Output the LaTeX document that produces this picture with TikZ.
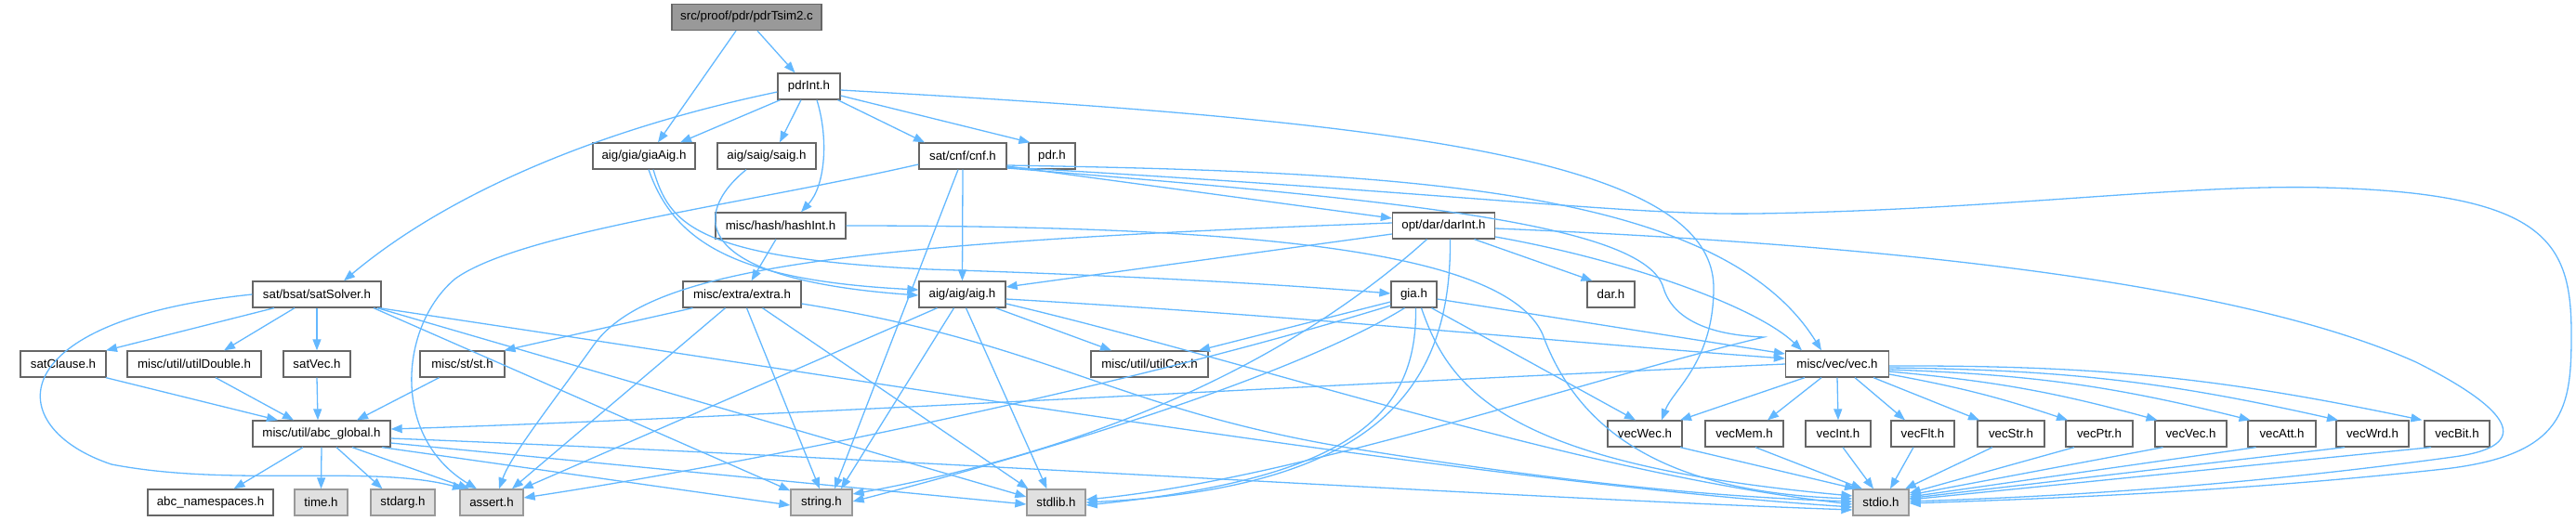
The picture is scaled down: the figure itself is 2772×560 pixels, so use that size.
\documentclass[tikz,border=0pt]{standalone}
\usepackage{fontspec}
\setmainfont{Liberation Sans}
\usetikzlibrary{arrows.meta}
\definecolor{edgec}{HTML}{63B8FF}
\definecolor{nodeb}{HTML}{666666}
\definecolor{rootf}{HTML}{999999}
\definecolor{sysf}{HTML}{E0E0E0}
\definecolor{sysb}{HTML}{999999}
\begin{document}
\begin{tikzpicture}[x=1pt,y=-1pt,
  box/.style={draw=nodeb,fill=white,line width=1.3pt,rectangle,inner sep=0pt,minimum height=28pt,font=\fontsize{13.3}{16}\selectfont},
  rootbox/.style={box,fill=rootf},
  sysbox/.style={box,fill=sysf,draw=sysb},
  e/.style={draw=edgec,line width=1.3pt,-{Triangle[length=12pt,width=9pt]}}]
\useasboundingbox (0,0) rectangle (2772,560);
% nodes
\node[rootbox,minimum width=161pt] (R) at (803.5,18.5) {src/proof/pdr/pdrTsim2.c};
\node[box,minimum width=67pt] (P) at (870.5,93) {pdrInt.h};
\node[box,minimum width=110pt] (GA) at (693,168) {aig/gia/giaAig.h};
\node[box,minimum width=106pt] (SA) at (825,168) {aig/saig/saig.h};
\node[box,minimum width=94pt] (CN) at (1036,168) {sat/cnf/cnf.h};
\node[box,minimum width=50pt] (PD) at (1132,168) {pdr.h};
\node[box,minimum width=140pt] (HI) at (840,243) {misc/hash/hashInt.h};
\node[box,minimum width=110pt] (DI) at (1553.5,243) {opt/dar/darInt.h};
\node[box,minimum width=138pt] (SS) at (341,317) {sat/bsat/satSolver.h};
\node[box,minimum width=127pt] (EX) at (798.5,317) {misc/extra/extra.h};
\node[box,minimum width=93pt] (AI) at (1035.5,317) {aig/aig/aig.h};
\node[box,minimum width=49pt] (GI) at (1521.5,317) {gia.h};
\node[box,minimum width=51pt] (DR) at (1733.5,317) {dar.h};
\node[box,minimum width=92pt] (SC) at (68,392) {satClause.h};
\node[box,minimum width=144pt] (UD) at (209,392) {misc/util/utilDouble.h};
\node[box,minimum width=72pt] (SV) at (341,392) {satVec.h};
\node[box,minimum width=91pt] (ST) at (497.5,392) {misc/st/st.h};
\node[box,minimum width=126pt] (UC) at (1237,392) {misc/util/utilCex.h};
\node[box,minimum width=111pt] (VE) at (1977,392) {misc/vec/vec.h};
\node[box,minimum width=148pt] (AG) at (346,467) {misc/util/abc\_global.h};
\node[box,minimum width=80pt] (VW) at (1770,467) {vecWec.h};
\node[box,minimum width=84pt] (VM) at (1877,467) {vecMem.h};
\node[box,minimum width=70pt] (VI) at (1978,467) {vecInt.h};
\node[box,minimum width=68pt] (VF) at (2069,467) {vecFlt.h};
\node[box,minimum width=72pt] (VS) at (2164,467) {vecStr.h};
\node[box,minimum width=72pt] (VP) at (2259,467) {vecPtr.h};
\node[box,minimum width=77pt] (VV) at (2357.5,467) {vecVec.h};
\node[box,minimum width=73pt] (VA) at (2455.5,467) {vecAtt.h};
\node[box,minimum width=78pt] (VD) at (2553,467) {vecWrd.h};
\node[box,minimum width=70pt] (VB) at (2644,467) {vecBit.h};
\node[box,minimum width=135pt] (AN) at (226.5,541) {abc\_namespaces.h};
\node[sysbox,minimum width=57pt] (TI) at (345.5,541) {time.h};
\node[sysbox,minimum width=69pt] (SG) at (433.5,541) {stdarg.h};
\node[sysbox,minimum width=68pt] (AS) at (529,541) {assert.h};
\node[sysbox,minimum width=66pt] (STR) at (884,541) {string.h};
\node[sysbox,minimum width=63pt] (SL) at (1136.5,541) {stdlib.h};
\node[sysbox,minimum width=60pt] (SI) at (2024,541) {stdio.h};
% edges
\draw[e] ([xshift=11.5pt]R.south) -- ([xshift=-15pt]P.north);
\draw[e] ([xshift=-11.5pt]R.south) -- ([xshift=15pt]GA.north);
\draw[e] ([xshift=-31pt]P.south) -- ([xshift=39pt]GA.north);
\draw[e] ([xshift=-8.5pt]P.south) -- ([xshift=14pt]SA.north);
\draw[e] ([xshift=8.5pt]P.south) .. controls (892,150) and (888,200) .. ([xshift=22pt]HI.north);
\draw[e] ([xshift=31pt]P.south) -- ([xshift=-41pt]CN.north);
\draw[e] ([yshift=-10pt]P.east) -- ([xshift=2pt]PD.north west);
\draw[e] ([yshift=-6pt]P.west) .. controls (640,140) and (480,210) .. ([xshift=29pt]SS.north);
\draw[e] ([yshift=-4pt]P.east) .. controls (1500,130) and (1844,170) .. (1844,310) .. controls (1844,390) and (1800,420) .. ([xshift=18pt]VW.north);
\draw[e] ([xshift=5pt]GA.south) .. controls (725,260) and (790,302) .. ([yshift=5pt]AI.west);
\draw[e] ([xshift=10pt]GA.south) .. controls (720,240) and (745,278) .. (1000,290) .. controls (1250,298) and (1400,308) .. ([yshift=1pt]GI.west);
\draw[e] ([xshift=-22pt]SA.south) .. controls (745,230) and (740,300) .. ([yshift=-1pt]AI.west);
\draw[e] (CN.south) -- (AI.north);
\draw[e] ([yshift=-11pt]CN.east) -- ([yshift=8pt]DI.west);
\draw[e] ([yshift=-10pt]CN.east) .. controls (1500,185) and (1850,200) .. ([xshift=-17pt]VE.north);
\draw[e] ([yshift=-12pt]CN.east) .. controls (1600,210) and (1750,232) .. (1890,230) .. controls (2150,226) and (2350,198) .. (2500,202) .. controls (2740,208) and (2767,260) .. (2767,360) .. controls (2767,440) and (2760,490) .. (2630,505) .. controls (2400,530) and (2200,537) .. ([yshift=-1pt]SI.east);
\draw[e] ([yshift=-13pt]CN.east) .. controls (1500,215) and (1770,240) .. (1790,310) .. controls (1805,360) and (1880,362) .. (1898,363) .. controls (1700,410) and (1400,515) .. ([yshift=3pt]SL.east);
\draw[e] ([xshift=-5pt]CN.south) -- ([xshift=14pt]STR.north);
\draw[e] ([yshift=-9pt]CN.west) .. controls (800,220) and (560,250) .. (490,300) .. controls (430,350) and (420,470) .. ([xshift=-16pt]AS.north);
\draw[e] ([xshift=-5pt]HI.south) -- ([xshift=10pt]EX.north);
\draw[e] (HI.east) .. controls (1350,243) and (1620,270) .. (1660,360) .. controls (1700,470) and (1800,530) .. ([yshift=4pt]SI.west);
\draw[e] ([yshift=-9pt]DI.west) -- ([yshift=8pt]AI.east);
\draw[e] ([xshift=33pt]DI.south) -- ([xshift=-20pt]DR.north);
\draw[e] ([yshift=-12pt]DI.east) .. controls (1750,280) and (1890,330) .. ([xshift=-38pt]VE.north);
\draw[e] ([yshift=-3pt]DI.east) .. controls (2000,262) and (2400,300) .. (2600,390) .. controls (2700,440) and (2730,480) .. (2640,492) .. controls (2400,525) and (2200,535) .. ([yshift=1pt]SI.east);
\draw[e] ([xshift=7pt]DI.south) .. controls (1562,420) and (1480,525) .. ([yshift=0pt]SL.east);
\draw[e] ([xshift=-18pt]DI.south) .. controls (1400,380) and (1200,480) .. ([yshift=9pt]STR.east);
\draw[e] ([yshift=3pt]DI.west) .. controls (900,262) and (700,290) .. (640,370) .. controls (590,440) and (550,490) .. ([xshift=8pt]AS.north);
\draw[e] ([xshift=-53pt]EX.south) -- ([xshift=45pt]ST.north);
\draw[e] ([xshift=-18pt]EX.south) -- ([xshift=22pt]AS.north);
\draw[e] ([xshift=5pt]EX.south) -- ([xshift=-2pt]STR.north);
\draw[e] ([xshift=22pt]EX.south) -- ([xshift=-30pt]SL.north);
\draw[e] ([yshift=-10pt]EX.east) .. controls (1130,370) and (1200,440) .. (1450,482) .. controls (1700,522) and (1850,535) .. ([yshift=1pt]SI.west);
\draw[e] ([xshift=36pt]AI.south) -- ([xshift=-41pt]UC.north);
\draw[e] ([yshift=-5pt]AI.east) .. controls (1400,340) and (1700,370) .. ([yshift=6pt]VE.west);
\draw[e] ([yshift=-10pt]AI.east) .. controls (1350,390) and (1700,510) .. ([yshift=-2pt]SI.west);
\draw[e] ([xshift=4pt]AI.south) -- ([xshift=-10pt]SL.north);
\draw[e] ([xshift=-9pt]AI.south) -- ([xshift=21pt]STR.north);
\draw[e] ([xshift=-27pt]AI.south) -- ([xshift=-2pt]AS.north east);
\draw[e] ([yshift=-8pt]GI.west) -- ([xshift=53pt]UC.north);
\draw[e] ([yshift=-5pt]GI.east) -- ([yshift=11pt]VE.west);
\draw[e] ([xshift=19pt]GI.south) -- ([xshift=-10pt]VW.north);
\draw[e] ([xshift=8pt]GI.south) .. controls (1560,420) and (1620,500) .. ([yshift=7pt]SI.west);
\draw[e] ([xshift=2pt]GI.south) .. controls (1525,450) and (1450,515) .. ([yshift=-3pt]SL.east);
\draw[e] ([xshift=-10pt]GI.south) .. controls (1400,400) and (1150,480) .. ([yshift=1pt]STR.east);
\draw[e] ([yshift=-12pt]GI.west) .. controls (1200,420) and (800,500) .. ([yshift=5pt]AS.east);
\draw[e] ([xshift=-46pt]SS.south) -- ([xshift=46pt]SC.north);
\draw[e] ([xshift=-24pt]SS.south) -- ([xshift=32pt]UD.north);
\draw[e] (SS.south) -- (SV.north);
\draw[e] (SS.west) .. controls (0,345) and (0,460) .. (120,500) .. controls (250,525) and (400,500) .. ([xshift=-30pt]AS.north);
\draw[e] ([xshift=61pt]SS.south) -- ([yshift=-2pt]STR.north west);
\draw[e] ([xshift=65pt]SS.south) -- ([yshift=6pt]SL.west);
\draw[e] ([xshift=67pt]SS.south) .. controls (1000,420) and (1600,520) .. ([yshift=-5pt]SI.west);
\draw[e] ([xshift=46pt]SC.south) -- ([xshift=-47pt]AG.north);
\draw[e] ([xshift=23pt]UD.south) -- ([xshift=-30pt]AG.north);
\draw[e] (SV.south) -- ([xshift=-4pt]AG.north);
\draw[e] ([xshift=-25pt]ST.south) -- ([xshift=38pt]AG.north);
\draw[e] (VE.west) .. controls (1400,415) and (800,450) .. ([yshift=5pt]AG.east);
\draw[e] ([xshift=-20pt]AG.south) -- ([xshift=25pt]AN.north);
\draw[e] (AG.south) -- (TI.north);
\draw[e] ([xshift=16pt]AG.south) -- ([xshift=-22pt]SG.north);
\draw[e] ([xshift=33pt]AG.south) -- ([xshift=-24pt]AS.north);
\draw[e] ([xshift=65pt]AG.south) -- ([yshift=-3pt]STR.west);
\draw[e] ([yshift=-10pt]AG.east) -- ([yshift=-2pt]SL.west);
\draw[e] ([yshift=-5pt]AG.east) .. controls (1000,495) and (1600,535) .. ([yshift=-8pt]SI.west);
\draw[e] ([xshift=-35pt]VE.south) -- ([xshift=38pt]VW.north);
\draw[e] ([xshift=-17pt]VE.south) -- ([xshift=25pt]VM.north);
\draw[e] (VE.south) -- (VI.north);
\draw[e] ([xshift=19pt]VE.south) -- ([xshift=-19pt]VF.north);
\draw[e] ([xshift=39pt]VE.south) -- ([xshift=-34pt]VS.north);
\draw[e] ([yshift=-11pt]VE.east) to[bend left=4] ([xshift=-34pt]VP.north);
\draw[e] ([yshift=-8pt]VE.east) to[bend left=5] ([xshift=-36pt]VV.north);
\draw[e] ([yshift=-6pt]VE.east) to[bend left=6] ([xshift=-34pt]VA.north);
\draw[e] ([yshift=-4pt]VE.east) to[bend left=6] ([xshift=-37pt]VD.north);
\draw[e] ([yshift=-2pt]VE.east) to[bend left=6] ([xshift=-2pt]VB.north west);
\draw[e] ([xshift=38pt]VW.south) -- ([xshift=-27pt]SI.north);
\draw[e] ([xshift=12pt]VM.south) -- ([xshift=-20pt]SI.north);
\draw[e] ([xshift=5pt]VI.south) -- ([xshift=-8pt]SI.north);
\draw[e] ([xshift=-10pt]VF.south) -- ([xshift=10pt]SI.north);
\draw[e] ([xshift=-20pt]VS.south) -- ([xshift=26pt]SI.north);
\draw[e] ([xshift=-27pt]VP.south) -- ([yshift=10pt]SI.east);
\draw[e] ([xshift=-30pt]VV.south) -- ([yshift=8pt]SI.east);
\draw[e] ([xshift=-28pt]VA.south) -- ([yshift=6pt]SI.east);
\draw[e] ([xshift=-30pt]VD.south) -- ([yshift=4.5pt]SI.east);
\draw[e] ([xshift=-28pt]VB.south) -- ([yshift=3pt]SI.east);
\end{tikzpicture}
\end{document}
